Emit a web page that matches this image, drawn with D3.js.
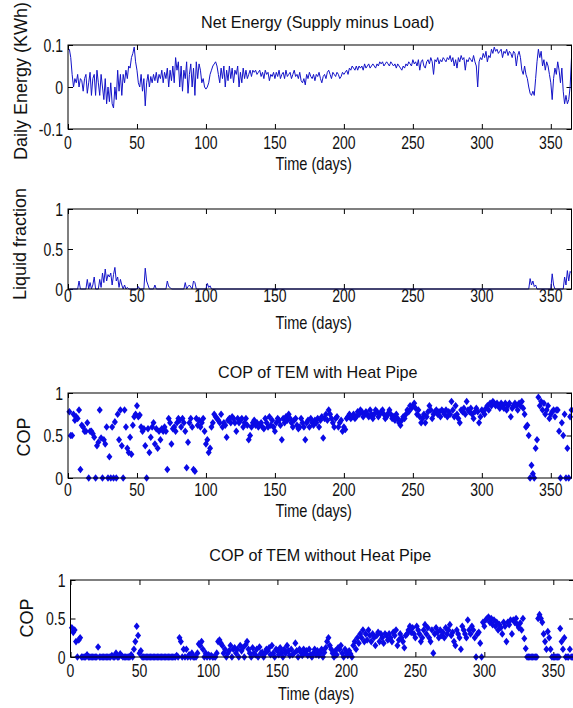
<!DOCTYPE html>
<html><head><meta charset="utf-8">
<script src="https://cdn.jsdelivr.net/npm/d3@7"></script>
<style>
html,body{margin:0;padding:0;background:#fff;}
svg{display:block;}
text{font-family:"Liberation Sans",Arial,sans-serif;}
</style>
</head><body>
<svg id="chart" width="573" height="708"></svg>
<script>
// ---------------- DATA ----------------
const xTicks = [0, 50, 100, 150, 200, 250, 300, 350];
const netEnergyTicks = [-0.1, 0, 0.1];
const unitTicks = [0, 0.5, 1];

// Net Energy (Supply minus Load), KWh, days 1..365
const netEnergy = [
0.09,0.07,0.03,0.0,0.02,0.01,0.03,0.0,0.02,0.015,
-0.01,0.02,0.03,-0.015,0.01,0.035,-0.02,0.02,0.03,-0.02,
0.04,0.01,-0.02,0.03,0.0,-0.03,0.02,-0.04,0.0,-0.035,
0.01,-0.04,-0.05,0.0,-0.03,0.04,-0.01,0.03,-0.02,0.03,
0.01,0.04,0.02,0.05,0.045,0.07,0.08,0.095,0.06,0.04,
0.01,0.0,0.03,-0.01,0.02,-0.045,0.01,0.03,0.0,0.025,
0.01,0.03,0.015,0.035,0.01,0.03,0.02,0.04,0.01,0.035,
0.02,0.045,0.0,0.04,0.015,0.05,0.01,0.07,0.04,0.06,
0.0,0.05,-0.01,0.04,0.02,0.06,-0.015,0.03,0.055,0.0,
0.045,-0.02,0.06,0.02,0.055,0.04,0.01,0.02,0.0,-0.005,
0.0,0.01,0.03,0.04,0.05,0.055,0.06,0.05,0.03,0.01,
0.045,0.02,0.05,0.0,0.04,0.015,0.05,0.02,0.045,0.01,
0.04,0.03,0.05,0.0,0.035,0.01,0.045,0.02,0.04,0.02,
0.03,0.04,0.025,0.04,0.035,0.04,0.03,0.035,0.04,0.025,
0.035,0.02,0.04,0.03,0.035,0.015,0.03,0.025,0.035,0.02,
0.035,0.025,0.04,0.02,0.03,0.035,0.02,0.04,0.025,0.03,
0.035,0.02,0.03,0.04,0.025,0.03,0.02,0.035,0.015,0.01,
0.02,0.005,0.03,0.02,0.035,0.025,0.02,0.03,0.015,0.03,
0.025,0.035,0.02,0.01,0.025,0.03,0.02,0.035,0.04,0.03,
0.02,0.035,0.03,0.025,0.035,0.03,0.02,0.025,0.035,0.03,
0.035,0.04,0.03,0.045,0.04,0.05,0.045,0.04,0.05,0.04,
0.05,0.045,0.05,0.04,0.055,0.045,0.05,0.055,0.045,0.05,
0.055,0.05,0.045,0.055,0.05,0.06,0.055,0.06,0.05,0.055,
0.06,0.055,0.05,0.06,0.055,0.05,0.055,0.045,0.055,0.05,
0.045,0.04,0.05,0.045,0.055,0.05,0.06,0.055,0.05,0.065,
0.055,0.06,0.05,0.065,0.04,0.06,0.065,0.05,0.045,0.06,
0.065,0.055,0.07,0.06,0.03,0.065,0.06,0.07,0.055,0.065,
0.06,0.07,0.065,0.06,0.07,0.065,0.075,0.06,0.07,0.05,
0.065,0.045,0.07,0.06,0.075,0.065,0.07,0.04,0.065,0.06,
0.07,0.065,0.06,0.075,0.06,0.05,0.0,0.06,0.07,0.065,
0.08,0.07,0.085,0.06,0.075,0.07,0.09,0.08,0.095,0.085,
0.09,0.08,0.085,0.09,0.07,0.085,0.08,0.09,0.075,0.085,
0.08,0.07,0.085,0.08,0.05,0.075,0.085,0.07,0.04,0.03,
0.05,0.03,0.02,0.0,-0.015,-0.02,-0.01,-0.02,0.02,0.06,
0.09,0.07,0.085,0.05,0.065,0.04,0.06,0.05,0.03,0.01,
-0.03,0.02,0.045,0.03,0.06,0.04,0.01,0.045,-0.01,-0.04,
-0.02,-0.04,-0.03,0.0,0.07
];

// Liquid fraction: days and values (line through these points)
const liquidDays = [1,7,8,9,13,14,15,16,17,18,19,20,22,23,24,25,26,27,28,29,30,31,32,33,34,35,36,37,38,39,40,41,42,43,44,45,50,51,52,55,56,57,58,59,62,63,64,71,72,73,74,75,84,85,86,87,88,90,91,92,93,100,101,102,103,104,334,335,336,337,338,339,340,350,351,352,353,359,360,361,362,363,364,365];
const liquidValues = [0,0,0.1,0,0,0.12,0,0.08,0,0.05,0.15,0,0,0.12,0.02,0.2,0.08,0.25,0.1,0.18,0.15,0.2,0.05,0.18,0.27,0.1,0.15,0.02,0.12,0.05,0,0.05,0,0.02,0,0,0,0.03,0,0,0.26,0.1,0.05,0,0,0.05,0,0,0.1,0.03,0.02,0,0,0.08,0,0.03,0.05,0,0.1,0.08,0,0,0.07,0.02,0.04,0,0,0.13,0.05,0.1,0.03,0.05,0,0,0.19,0.05,0,0,0.15,0.05,0.23,0.1,0.22,0.2,0.1];

// COP of TEM with Heat Pipe, days 1..365
const copWithPipe = [
0.78,0.5,0.5,0.75,0.68,0.72,0.7,0.8,0.1,0.62,
0.6,0.55,0.55,0.65,0,0.55,0.55,0.52,0.48,0,
0.38,0.42,0.8,0.47,0,0.45,0.4,0.6,0,0.25,
0,0.6,0,0.66,0,0.75,0.45,0.8,0.38,0,
0.8,0.6,0.35,0.3,0.48,0.28,0.62,0.72,0.75,0.85,
0.72,0.74,0.6,0.55,0.58,0.38,0,0.58,0.3,0.48,
0.6,0.65,0.4,0.58,0.35,0.55,0.45,0.58,0.55,0.6,
0.55,0.1,0.7,0.65,0.4,0.58,0.6,0.55,0.65,0.7,
0.68,0.6,0.7,0.65,0.55,0.12,0.42,0.65,0.7,0.6,
0.1,0.08,0.7,0.62,0.68,0.6,0.65,0.7,0.55,0.4,
0.45,0.3,0.35,0.6,0.65,0.75,0.72,0.7,0.68,0.65,
0.75,0.6,0.65,0.62,0.48,0.68,0.7,0.65,0.72,0.7,
0.65,0.55,0.7,0.65,0.68,0.7,0.6,0.65,0.7,0.62,
0.45,0.5,0.6,0.65,0.68,0.62,0.65,0.6,0.62,0.65,
0.6,0.58,0.7,0.65,0.6,0.72,0.62,0.68,0.6,0.55,
0.65,0.7,0.68,0.62,0.45,0.7,0.65,0.72,0.68,0.75,
0.7,0.65,0.6,0.68,0.7,0.62,0.58,0.6,0.7,0.65,
0.6,0.45,0.65,0.68,0.6,0.7,0.65,0.62,0.68,0.65,
0.7,0.6,0.68,0.72,0.47,0.7,0.75,0.68,0.8,0.75,
0.7,0.65,0.6,0.7,0.72,0.6,0.65,0.68,0.55,0.6,
0.57,0.7,0.72,0.75,0.7,0.72,0.75,0.7,0.72,0.78,
0.75,0.8,0.78,0.72,0.75,0.78,0.75,0.72,0.8,0.75,
0.7,0.75,0.8,0.78,0.72,0.75,0.78,0.8,0.75,0.7,
0.72,0.76,0.8,0.75,0.7,0.72,0.68,0.75,0.7,0.65,
0.62,0.68,0.72,0.7,0.75,0.8,0.78,0.85,0.82,0.85,
0.88,0.82,0.75,0.8,0.72,0.65,0.7,0.75,0.65,0.72,
0.78,0.85,0.8,0.7,0.75,0.78,0.8,0.75,0.78,0.72,
0.8,0.78,0.75,0.8,0.72,0.78,0.75,0.9,0.8,0.72,
0.85,0.75,0.7,0.65,0.8,0.78,0.82,0.75,0.9,0.8,
0.78,0.82,0.75,0.7,0.78,0.82,0.78,0.65,0.72,0.8,
0.78,0.75,0.82,0.85,0.8,0.88,0.85,0.9,0.88,0.85,
0.88,0.85,0.82,0.88,0.85,0.82,0.88,0.8,0.85,0.88,
0.72,0.82,0.85,0.88,0.85,0.8,0.88,0.85,0.9,0.82,
0.75,0.6,0.62,0.5,0,0.15,0.05,0,0.35,0.45,
0.95,0.85,0.9,0.8,0.88,0.75,0.8,0.85,0.7,0.75,
0.78,0.8,0.72,0.8,0.8,0.55,0,0.65,0.5,0.75,
0,0.35,0,0.72,0.8
];

// COP of TEM without Heat Pipe, days 1..365
const copWithoutPipe = [
0.38,0.32,0.35,0.2,0,0.22,0.25,0,0,0,
0,0.03,0,0,0,0,0,0,0,0.13,
0,0,0,0,0,0,0,0,0,0.02,
0,0,0.05,0,0,0.04,0.02,0,0,0,
0,0,0,0.03,0,0.1,0.2,0.4,0.28,0.05,
0.08,0,0,0,0,0,0,0,0,0,
0,0,0,0,0,0,0,0,0,0,
0,0,0,0,0,0,0.02,0,0.25,0.2,
0,0.1,0,0.1,0,0.03,0,0.05,0,0,
0,0.05,0.17,0.15,0.2,0.1,0,0.05,0,0.03,
0,0.02,0,0,0,0.05,0.2,0.22,0.18,0.15,
0.05,0.1,0,0.05,0.08,0.15,0,0.1,0.12,0.05,
0.1,0,0.15,0.08,0.12,0,0.16,0.2,0.1,0.05,
0,0.12,0.05,0.03,0.1,0,0.13,0.05,0.06,0,
0.05,0.1,0.08,0.12,0.03,0.15,0.05,0,0.1,0.08,
0.03,0.12,0.06,0,0.1,0.05,0.15,0.08,0.02,0.1,
0.03,0.05,0.18,0.08,0,0.1,0.06,0.02,0.1,0.05,
0.08,0.02,0.1,0.03,0,0.05,0.1,0.03,0.08,0.02,
0.05,0.1,0,0.06,0.12,0.2,0.25,0.15,0.1,0.05,
0,0.08,0.03,0.12,0.1,0.15,0.05,0,0.1,0.05,
0.02,0.08,0.04,0,0.15,0.2,0.1,0.25,0.18,0.3,
0.25,0.35,0.2,0.3,0.22,0.35,0.28,0.2,0.3,0.25,
0.15,0.28,0.32,0.2,0.3,0.25,0.18,0.3,0.28,0.22,
0.3,0.25,0.2,0.32,0.28,0.35,0.15,0.22,0.3,0.25,
0.2,0.12,0.28,0.3,0.35,0.4,0.32,0.38,0.3,0.25,
0.4,0.35,0.3,0.2,0.25,0.35,0.42,0.3,0.38,0.25,
0.2,0.35,0.05,0.3,0.38,0.32,0.25,0.35,0.28,0.32,
0.25,0.38,0.3,0.35,0.42,0.28,0.32,0.2,0.15,0.35,
0.3,0.25,0.1,0.4,0.35,0.3,0.25,0.48,0.35,0.3,
0.4,0.35,0.25,0,0.3,0.32,0.18,0,0.45,0.4,
0.48,0.5,0.52,0.45,0.5,0.42,0.48,0.4,0.45,0.35,
0.42,0.38,0.3,0.45,0.4,0.2,0.45,0.42,0.48,0.3,
0.48,0.45,0.5,0.42,0.38,0.44,0.35,0.5,0.24,0.11,
0,0,0,0,0,0,0,0,0.5,0.55,
0.5,0.45,0.3,0.2,0.1,0.33,0.25,0.1,0,0,
0,0,0,0,0.37,0.2,0.1,0.25,0,0,
0,0.1,0,0,0
];

// ---------------- DRAWING ----------------
const svg = d3.select("#chart");
const BLUE_LINE = "#1414c8";
const BLUE_MARK = "#0a0ae6";
const days = netEnergy.map((_, i) => i + 1);

const panels = [
  {top:45, bottom:129, left:68, right:571.5, yDomain:[-0.1,0.1], yTicks:netEnergyTicks,
   title:"Net Energy (Supply minus Load)", titleY:28, ylabel:"Daily Energy (KWh)", ylabelX:27, ylabelY:81,
   tickLabelY:149, xlabelY:170},
  {top:209, bottom:289, left:68, right:571.5, yDomain:[0,1], yTicks:unitTicks,
   title:null, ylabel:"Liquid fraction", ylabelX:26, ylabelY:244, tickLabelY:302, xlabelY:329},
  {top:393, bottom:478, left:68, right:571.5, yDomain:[0,1], yTicks:unitTicks,
   title:"COP of TEM with Heat Pipe", titleY:378, ylabel:"COP", ylabelX:30, ylabelY:437, tickLabelY:496, xlabelY:517},
  {top:580, bottom:657, left:70.5, right:574, yDomain:[0,1], yTicks:unitTicks,
   title:"COP of TEM without Heat Pipe", titleY:561, ylabel:"COP", ylabelX:33, ylabelY:618, tickLabelY:677, xlabelY:700}
];

const fmt = d => d === 0 ? "0" : String(d);
const TICK_FS = 18, TICK_SX = 0.78, TITLE_SX = 0.95, XLAB_FS = 18, XLAB_SX = 0.81;

panels.forEach((p, i) => {
  p.x = d3.scaleLinear().domain([0, 365]).range([p.left, p.right]);
  p.y = d3.scaleLinear().domain(p.yDomain).range([p.bottom, p.top]);
  const g = svg.append("g");

  // ticks inside on all four sides
  const tickLen = 5;
  const xt = g.append("g").attr("transform", `translate(0,${p.bottom})`)
    .call(d3.axisBottom(p.x).tickValues(xTicks).tickSize(-tickLen).tickFormat(""));
  const xtt = g.append("g").attr("transform", `translate(0,${p.top})`)
    .call(d3.axisTop(p.x).tickValues(xTicks).tickSize(-tickLen).tickFormat(""));
  const yl = g.append("g").attr("transform", `translate(${p.left},0)`)
    .call(d3.axisLeft(p.y).tickValues(p.yTicks).tickSize(-tickLen).tickFormat(""));
  const yr = g.append("g").attr("transform", `translate(${p.right},0)`)
    .call(d3.axisRight(p.y).tickValues(p.yTicks).tickSize(-tickLen).tickFormat(""));
  [xt, xtt, yl, yr].forEach(a => {
    a.select(".domain").remove();
    a.selectAll("line").attr("stroke", "#000").attr("stroke-width", 1);
  });

  // tick labels (condensed)
  g.append("g").selectAll("text").data(xTicks).join("text")
    .attr("transform", d => `translate(${p.x(d)},${p.tickLabelY}) scale(${TICK_SX},1)`)
    .attr("text-anchor", "middle").attr("font-size", TICK_FS).attr("fill", "#111")
    .text(d => d);
  g.append("g").selectAll("text").data(p.yTicks).join("text")
    .attr("transform", d => `translate(${p.left - 5},${p.y(d) + 6.5}) scale(${TICK_SX},1)`)
    .attr("text-anchor", "end").attr("font-size", TICK_FS).attr("fill", "#111")
    .text(fmt);

  // data
  if (i === 0) {
    g.append("path").datum(netEnergy)
      .attr("fill", "none").attr("stroke", BLUE_LINE).attr("stroke-width", 1)
      .attr("d", d3.line().x((d, k) => p.x(days[k])).y(d => p.y(d)));
  } else if (i === 1) {
    g.append("path").datum(liquidValues)
      .attr("fill", "none").attr("stroke", BLUE_LINE).attr("stroke-width", 1)
      .attr("d", d3.line().x((d, k) => p.x(liquidDays[k])).y(d => p.y(d)));
  } else {
    const vals = i === 2 ? copWithPipe : copWithoutPipe;
    g.append("g").selectAll("path").data(vals).join("path")
      .attr("transform", (d, k) => `translate(${p.x(days[k])},${p.y(d)})`)
      .attr("d", "M0,-3.8L3,0L0,3.8L-3,0Z")
      .attr("fill", BLUE_MARK).attr("stroke", "none");
  }

  // box
  g.append("rect").attr("x", p.left).attr("y", p.top)
    .attr("width", p.right - p.left).attr("height", p.bottom - p.top)
    .attr("fill", "none").attr("stroke", "#000").attr("stroke-width", 1);

  // labels
  if (p.title) {
    g.append("text")
      .attr("transform", `translate(${(p.left + p.right) / 2 - 2},${p.titleY}) scale(${TITLE_SX},1)`)
      .attr("text-anchor", "middle").attr("font-size", 17).attr("fill", "#111")
      .text(p.title);
  }
  g.append("text")
    .attr("transform", `translate(${(p.left + p.right) / 2 - 6},${p.xlabelY}) scale(${XLAB_SX},1)`)
    .attr("text-anchor", "middle").attr("font-size", XLAB_FS).attr("fill", "#111")
    .text("Time (days)");
  g.append("text")
    .attr("transform", `translate(${p.ylabelX},${p.ylabelY}) rotate(-90)`)
    .attr("text-anchor", "middle").attr("font-size", 18).attr("fill", "#111")
    .text(p.ylabel);
});
</script>
</body></html>
